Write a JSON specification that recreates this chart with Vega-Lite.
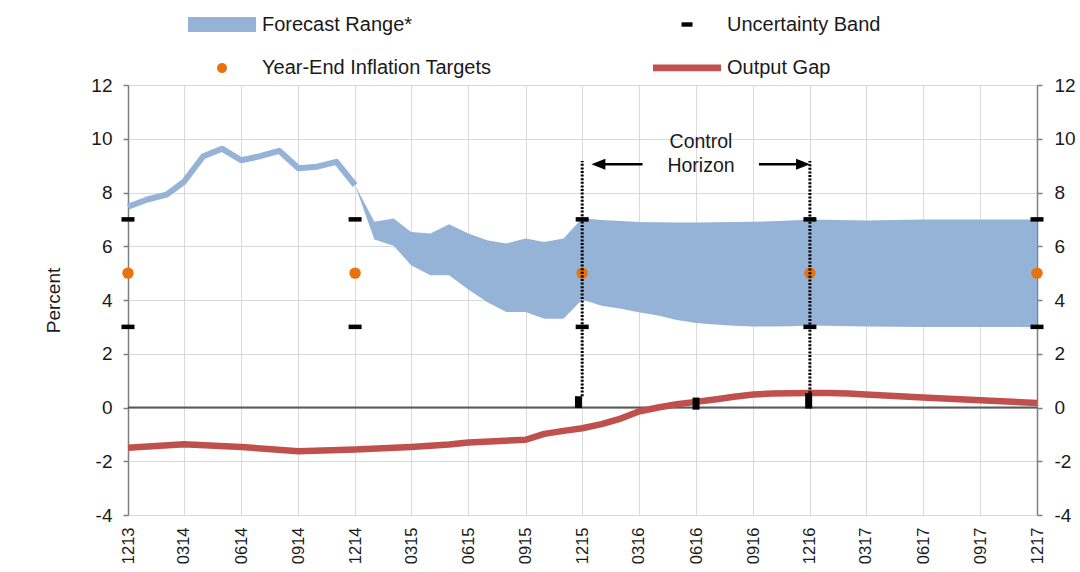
{
  "$schema": "https://vega.github.io/schema/vega-lite/v6.json",
  "width": 909,
  "height": 430,
  "autosize": {"type": "none"},
  "padding": {"left": 128, "top": 85, "right": 43, "bottom": 57},
  "background": "white",
  "config": {
    "font": "Liberation Sans",
    "view": {"stroke": null},
    "axis": {"labelFont": "Liberation Sans", "titleFont": "Liberation Sans", "labelColor": "#1a1a1a", "titleColor": "#1a1a1a"},
    "legend": {
      "orient": "none", "legendX": 84, "legendY": -70.5,
      "direction": "horizontal",
      "columns": 2, "columnPadding": 161, "rowPadding": 23.4,
      "padding": 0, "symbolSize": 400, "labelOffset": 30,
      "labelFont": "Liberation Sans", "labelFontSize": 20, "labelColor": "#1a1a1a", "labelLimit": 400
    }
  },
  "datasets": {
    "inflation": [
      {"date": "2013-12-01", "value": 7.47},
      {"date": "2014-01-01", "value": 7.74},
      {"date": "2014-02-01", "value": 7.92},
      {"date": "2014-03-01", "value": 8.4},
      {"date": "2014-04-01", "value": 9.35},
      {"date": "2014-05-01", "value": 9.63},
      {"date": "2014-06-01", "value": 9.2},
      {"date": "2014-07-01", "value": 9.35},
      {"date": "2014-08-01", "value": 9.55},
      {"date": "2014-09-01", "value": 8.9},
      {"date": "2014-10-01", "value": 8.96},
      {"date": "2014-11-01", "value": 9.14},
      {"date": "2014-12-01", "value": 8.27}
    ],
    "forecast": [
      {"date": "2014-12-01", "lo": 8.27, "hi": 8.27},
      {"date": "2015-01-01", "lo": 6.25, "hi": 6.91},
      {"date": "2015-02-01", "lo": 6.02, "hi": 7.03},
      {"date": "2015-03-01", "lo": 5.29, "hi": 6.53},
      {"date": "2015-04-01", "lo": 4.92, "hi": 6.47},
      {"date": "2015-05-01", "lo": 4.92, "hi": 6.82},
      {"date": "2015-06-01", "lo": 4.39, "hi": 6.47},
      {"date": "2015-07-01", "lo": 3.93, "hi": 6.22},
      {"date": "2015-08-01", "lo": 3.55, "hi": 6.1},
      {"date": "2015-09-01", "lo": 3.55, "hi": 6.29},
      {"date": "2015-10-01", "lo": 3.3, "hi": 6.16},
      {"date": "2015-11-01", "lo": 3.3, "hi": 6.29},
      {"date": "2015-12-01", "lo": 4.02, "hi": 7.04},
      {"date": "2016-01-01", "lo": 3.79, "hi": 6.98},
      {"date": "2016-02-01", "lo": 3.67, "hi": 6.94},
      {"date": "2016-03-01", "lo": 3.54, "hi": 6.9},
      {"date": "2016-04-01", "lo": 3.42, "hi": 6.89},
      {"date": "2016-05-01", "lo": 3.26, "hi": 6.88},
      {"date": "2016-06-01", "lo": 3.14, "hi": 6.88},
      {"date": "2016-07-01", "lo": 3.09, "hi": 6.89},
      {"date": "2016-08-01", "lo": 3.04, "hi": 6.9},
      {"date": "2016-09-01", "lo": 3.01, "hi": 6.91},
      {"date": "2016-10-01", "lo": 3.01, "hi": 6.93},
      {"date": "2016-11-01", "lo": 3.02, "hi": 6.96},
      {"date": "2016-12-01", "lo": 3.05, "hi": 7.0},
      {"date": "2017-03-01", "lo": 3.01, "hi": 6.96},
      {"date": "2017-06-01", "lo": 3.0, "hi": 7.0},
      {"date": "2017-09-01", "lo": 3.0, "hi": 7.0},
      {"date": "2017-12-01", "lo": 2.99, "hi": 7.0}
    ],
    "gap": [
      {"date": "2013-12-01", "value": -1.5},
      {"date": "2014-03-01", "value": -1.37},
      {"date": "2014-06-01", "value": -1.47},
      {"date": "2014-09-01", "value": -1.63},
      {"date": "2014-12-01", "value": -1.56},
      {"date": "2015-03-01", "value": -1.47},
      {"date": "2015-05-01", "value": -1.38},
      {"date": "2015-06-01", "value": -1.3},
      {"date": "2015-09-01", "value": -1.2},
      {"date": "2015-10-01", "value": -0.98},
      {"date": "2015-11-01", "value": -0.87},
      {"date": "2015-12-01", "value": -0.77},
      {"date": "2016-01-01", "value": -0.62},
      {"date": "2016-02-01", "value": -0.41},
      {"date": "2016-03-01", "value": -0.15},
      {"date": "2016-04-01", "value": 0.0},
      {"date": "2016-05-01", "value": 0.12},
      {"date": "2016-06-01", "value": 0.21},
      {"date": "2016-07-01", "value": 0.3},
      {"date": "2016-08-01", "value": 0.4},
      {"date": "2016-09-01", "value": 0.48},
      {"date": "2016-10-01", "value": 0.52},
      {"date": "2016-11-01", "value": 0.53},
      {"date": "2016-12-01", "value": 0.54},
      {"date": "2017-01-01", "value": 0.54},
      {"date": "2017-02-01", "value": 0.52},
      {"date": "2017-03-01", "value": 0.48},
      {"date": "2017-06-01", "value": 0.37},
      {"date": "2017-09-01", "value": 0.27},
      {"date": "2017-12-01", "value": 0.17}
    ],
    "targets": [
      {"date": "2013-12-01", "value": 5},
      {"date": "2014-12-01", "value": 5},
      {"date": "2015-12-01", "value": 5},
      {"date": "2016-12-01", "value": 5},
      {"date": "2017-12-01", "value": 5}
    ],
    "bands": [
      {"date": "2013-12-01", "value": 7},
      {"date": "2013-12-01", "value": 3},
      {"date": "2014-12-01", "value": 7},
      {"date": "2014-12-01", "value": 3},
      {"date": "2015-12-01", "value": 7},
      {"date": "2015-12-01", "value": 3},
      {"date": "2016-12-01", "value": 7},
      {"date": "2016-12-01", "value": 3},
      {"date": "2017-12-01", "value": 7},
      {"date": "2017-12-01", "value": 3}
    ],
    "gapbars": [
      {"date": "2015-11-25", "lo": -0.02, "hi": 0.42},
      {"date": "2016-06-01", "lo": -0.08, "hi": 0.37},
      {"date": "2016-11-29", "lo": -0.04, "hi": 0.54}
    ],
    "horizon": [
      {"date": "2015-12-01", "lo": 0.42, "hi": 9.17},
      {"date": "2016-12-01", "lo": 0.54, "hi": 9.17}
    ],
    "arrows": [
      {"date": "2015-12-27", "date2": "2016-03-07", "value": 9.05},
      {"date": "2016-09-10", "date2": "2016-11-20", "value": 9.05}
    ],
    "heads": [
      {"date": "2015-12-27", "value": 9.05, "dir": "left"},
      {"date": "2016-11-20", "value": 9.05, "dir": "right"}
    ],
    "note": [
      {"date": "2016-06-09", "value": 9.87, "text": "Control\nHorizon"}
    ]
  },
  "layer": [
    {
      "data": {"name": "forecast"},
      "mark": {"type": "area", "opacity": 1, "interpolate": "linear"},
      "encoding": {
        "x": {
          "field": "date", "type": "temporal", "title": null,
          "scale": {"type": "utc", "nice": false, "domain": [{"year": 2013, "month": 12, "date": 1, "utc": true}, {"year": 2017, "month": 12, "date": 1, "utc": true}]},
          "axis": {
            "values": [
              {"year": 2013, "month": 12, "date": 1, "utc": true},
              {"year": 2014, "month": 3, "date": 1, "utc": true},
              {"year": 2014, "month": 6, "date": 1, "utc": true},
              {"year": 2014, "month": 9, "date": 1, "utc": true},
              {"year": 2014, "month": 12, "date": 1, "utc": true},
              {"year": 2015, "month": 3, "date": 1, "utc": true},
              {"year": 2015, "month": 6, "date": 1, "utc": true},
              {"year": 2015, "month": 9, "date": 1, "utc": true},
              {"year": 2015, "month": 12, "date": 1, "utc": true},
              {"year": 2016, "month": 3, "date": 1, "utc": true},
              {"year": 2016, "month": 6, "date": 1, "utc": true},
              {"year": 2016, "month": 9, "date": 1, "utc": true},
              {"year": 2016, "month": 12, "date": 1, "utc": true},
              {"year": 2017, "month": 3, "date": 1, "utc": true},
              {"year": 2017, "month": 6, "date": 1, "utc": true},
              {"year": 2017, "month": 9, "date": 1, "utc": true},
              {"year": 2017, "month": 12, "date": 1, "utc": true}
            ],
            "labelExpr": "utcFormat(datum.value, '%m%y')",
            "labelAngle": 270, "labelAlign": "right", "labelBaseline": "middle",
            "labelFontSize": 16.5, "labelPadding": 12,
            "labelFlush": false, "labelOverlap": false, "labelBound": false,
            "domain": false, "ticks": false,
            "grid": true, "gridColor": "#d9d9d9", "gridWidth": 1,
            "title": null
          }
        },
        "y": {
          "field": "lo", "type": "quantitative",
          "scale": {"domain": [-4, 12], "nice": false, "zero": false},
          "axis": {
            "orient": "left", "values": [-4, -2, 0, 2, 4, 6, 8, 10, 12],
            "labelExpr": "datum.value + ''",
            "grid": true, "gridColor": "#d9d9d9", "gridWidth": 1,
            "domain": true, "domainColor": "#7f7f7f", "domainWidth": 1.5,
            "ticks": true, "tickColor": "#7f7f7f", "tickSize": 5, "tickWidth": 1.5,
            "labelFontSize": 19, "labelPadding": 11,
            "title": "Percent", "titleFontSize": 19, "titleFontWeight": "normal", "titlePadding": 27
          }
        },
        "y2": {"field": "hi"},
        "color": {
          "datum": "Forecast Range*",
          "scale": {
            "domain": ["Forecast Range*", "Uncertainty Band", "Year-End Inflation Targets", "Output Gap"],
            "range": ["#95b3d7", "#000000", "#e8730c", "#c0504d"]
          },
          "legend": {
            "title": null,
            "encode": {
              "symbols": {
                "update": {
                  "shape": {"signal": "datum.value === 'Forecast Range*' ? 'M-3.4,-0.75H3.4V0.75H-3.4Z' : datum.value === 'Output Gap' ? 'M-3.4,-0.34H3.4V0.34H-3.4Z' : datum.value === 'Uncertainty Band' ? 'M-0.55,-0.22H0.55V0.22H-0.55Z' : 'M-0.5,0A0.5,0.5,0,1,0,0.5,0A0.5,0.5,0,1,0,-0.5,0Z'"},
                  "size": {"value": 400},
                  "strokeWidth": {"value": 0},
                  "opacity": {"value": 1}
                }
              }
            }
          }
        }
      }
    },
    {
      "data": {"name": "inflation"},
      "mark": {"type": "line", "color": "#95b3d7", "strokeWidth": 6, "strokeJoin": "round"},
      "encoding": {
        "x": {"field": "date", "type": "temporal", "title": null},
        "y": {"field": "value", "type": "quantitative", "axis": null}
      }
    },
    {
      "data": {"values": [{"value": 0}]},
      "mark": {"type": "rule", "color": "#595959", "strokeWidth": 2},
      "encoding": {
        "y": {"field": "value", "type": "quantitative", "axis": null}
      }
    },
    {
      "data": {"name": "gap"},
      "mark": {"type": "line", "strokeWidth": 6.5, "strokeJoin": "round"},
      "encoding": {
        "x": {"field": "date", "type": "temporal", "title": null},
        "y": {"field": "value", "type": "quantitative", "axis": null},
        "color": {
          "datum": "Output Gap",
          "legend": {
            "title": null,
            "encode": {
              "symbols": {
                "update": {
                  "shape": {"signal": "datum.value === 'Forecast Range*' ? 'M-3.4,-0.75H3.4V0.75H-3.4Z' : datum.value === 'Output Gap' ? 'M-3.4,-0.34H3.4V0.34H-3.4Z' : datum.value === 'Uncertainty Band' ? 'M-0.55,-0.22H0.55V0.22H-0.55Z' : 'M-0.5,0A0.5,0.5,0,1,0,0.5,0A0.5,0.5,0,1,0,-0.5,0Z'"},
                  "size": {"value": 400},
                  "strokeWidth": {"value": 0},
                  "opacity": {"value": 1}
                }
              }
            }
          }
        }
      }
    },
    {
      "data": {"name": "gapbars"},
      "mark": {"type": "rule", "color": "#000000", "strokeWidth": 7},
      "encoding": {
        "x": {"field": "date", "type": "temporal", "title": null},
        "y": {"field": "lo", "type": "quantitative", "axis": null},
        "y2": {"field": "hi"}
      }
    },
    {
      "data": {"name": "targets"},
      "mark": {"type": "point", "filled": true, "size": 130, "opacity": 1},
      "encoding": {
        "x": {"field": "date", "type": "temporal", "title": null},
        "y": {
          "field": "value", "type": "quantitative",
          "axis": {
            "orient": "right", "values": [-4, -2, 0, 2, 4, 6, 8, 10, 12],
            "labelExpr": "datum.value + ''",
            "grid": false,
            "domain": true, "domainColor": "#7f7f7f", "domainWidth": 1.5,
            "ticks": true, "tickColor": "#7f7f7f", "tickSize": 5, "tickWidth": 1.5,
            "labelFontSize": 19, "labelPadding": 12, "title": null
          }
        },
        "color": {
          "datum": "Year-End Inflation Targets",
          "legend": {
            "title": null,
            "encode": {
              "symbols": {
                "update": {
                  "shape": {"signal": "datum.value === 'Forecast Range*' ? 'M-3.4,-0.75H3.4V0.75H-3.4Z' : datum.value === 'Output Gap' ? 'M-3.4,-0.34H3.4V0.34H-3.4Z' : datum.value === 'Uncertainty Band' ? 'M-0.55,-0.22H0.55V0.22H-0.55Z' : 'M-0.5,0A0.5,0.5,0,1,0,0.5,0A0.5,0.5,0,1,0,-0.5,0Z'"},
                  "size": {"value": 400},
                  "strokeWidth": {"value": 0},
                  "opacity": {"value": 1}
                }
              }
            }
          }
        }
      }
    },
    {
      "data": {"name": "bands"},
      "mark": {"type": "tick", "orient": "horizontal", "size": 13, "thickness": 4.5, "opacity": 1},
      "encoding": {
        "x": {"field": "date", "type": "temporal", "title": null},
        "y": {"field": "value", "type": "quantitative", "axis": null},
        "color": {
          "datum": "Uncertainty Band",
          "legend": {
            "title": null,
            "encode": {
              "symbols": {
                "update": {
                  "shape": {"signal": "datum.value === 'Forecast Range*' ? 'M-3.4,-0.75H3.4V0.75H-3.4Z' : datum.value === 'Output Gap' ? 'M-3.4,-0.34H3.4V0.34H-3.4Z' : datum.value === 'Uncertainty Band' ? 'M-0.55,-0.22H0.55V0.22H-0.55Z' : 'M-0.5,0A0.5,0.5,0,1,0,0.5,0A0.5,0.5,0,1,0,-0.5,0Z'"},
                  "size": {"value": 400},
                  "strokeWidth": {"value": 0},
                  "opacity": {"value": 1}
                }
              }
            }
          }
        }
      }
    },
    {
      "data": {"name": "horizon"},
      "mark": {"type": "rule", "color": "#000000", "strokeWidth": 3, "strokeDash": [2, 1.6]},
      "encoding": {
        "x": {"field": "date", "type": "temporal", "title": null},
        "y": {"field": "lo", "type": "quantitative", "axis": null},
        "y2": {"field": "hi"}
      }
    },
    {
      "data": {"name": "arrows"},
      "mark": {"type": "rule", "color": "#000000", "strokeWidth": 2.5},
      "encoding": {
        "x": {"field": "date", "type": "temporal", "title": null},
        "x2": {"field": "date2"},
        "y": {"field": "value", "type": "quantitative", "axis": null}
      }
    },
    {
      "data": {"name": "heads"},
      "mark": {"type": "point", "filled": true, "size": 196, "opacity": 1, "color": "#000000"},
      "encoding": {
        "x": {"field": "date", "type": "temporal", "title": null},
        "y": {"field": "value", "type": "quantitative", "axis": null},
        "shape": {
          "field": "dir", "type": "nominal", "legend": null,
          "scale": {"domain": ["left", "right"], "range": ["M-1,0L1,-0.78L1,0.78Z", "M1,0L-1,-0.78L-1,0.78Z"]}
        }
      }
    },
    {
      "data": {"name": "note"},
      "mark": {"type": "text", "font": "Liberation Sans", "fontSize": 19.5, "lineBreak": "\n", "lineHeight": 23.6, "align": "center", "baseline": "middle", "color": "#1a1a1a"},
      "encoding": {
        "x": {"field": "date", "type": "temporal", "title": null},
        "y": {"field": "value", "type": "quantitative", "axis": null},
        "text": {"field": "text"}
      }
    }
  ],
  "resolve": {"axis": {"y": "independent"}}
}
